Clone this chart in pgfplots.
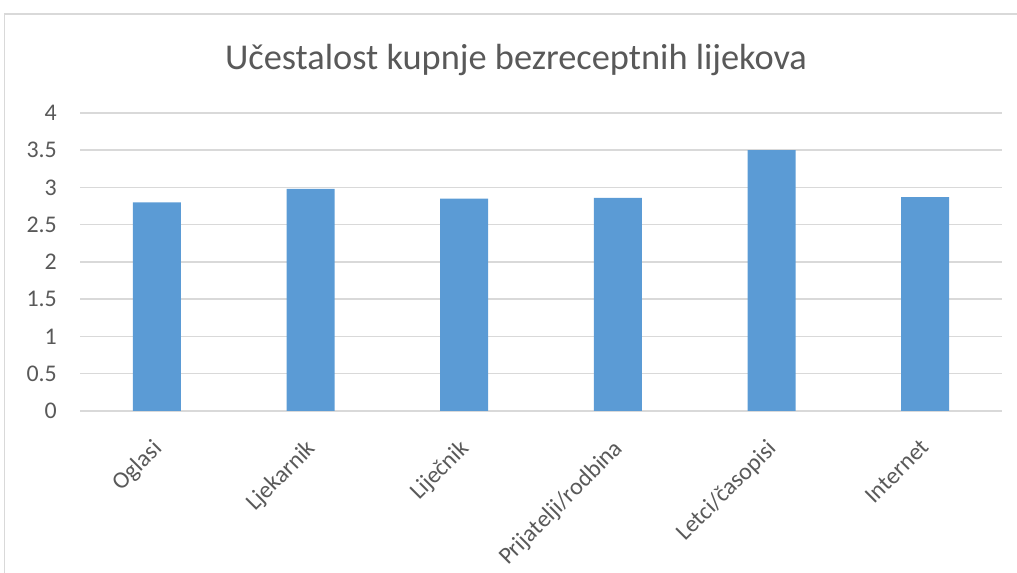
\documentclass[border=0pt]{standalone}
\usepackage{fontspec}
\setmainfont{Carlito}
\usepackage{pgfplots}
\pgfplotsset{compat=1.18}
\definecolor{barblue}{HTML}{5B9BD5}
\definecolor{gridgray}{HTML}{D9D9D9}
\definecolor{textgray}{HTML}{595959}

\begin{document}
\begin{tikzpicture}[x=1bp, y=1bp]
\useasboundingbox (0,0) rectangle (1017,573);
% chart frame (only left and top edges are inside the crop)
\draw[gridgray, line width=1.3bp] (4.7,0) -- (4.7,559) -- (1017,559);
\node[anchor=base, text=textgray, font=\fontsize{36.5}{40}\selectfont]
    at (516,503) {Učestalost kupnje bezreceptnih lijekova};
\begin{axis}[
    at={(80bp,162bp)}, anchor=south west,
    scale only axis,
    width=922bp, height=298bp,
    xmin=-0.5, xmax=5.5,
    ymin=0, ymax=4,
    ytick={0,0.5,...,4},
    xtick=data,
    xticklabels={Oglasi, Ljekarnik, Liječnik, Prijatelji/rodbina, Letci/časopisi, Internet},
    axis line style={draw=none},
    major tick length=0pt,
    ymajorgrids,
    grid style={gridgray, line width=1.5bp},
    /pgf/number format/assume math mode=true,
    tick label style={text=textgray, font=\fontsize{24}{28}\selectfont},
    yticklabel style={anchor=east, inner sep=0pt, xshift=-23bp},
    xticklabel style={rotate=45, anchor=north east, inner sep=0pt, xshift=-23bp, yshift=-15bp},
    clip=false,
]
\addplot[ybar, bar width=48bp, fill=barblue, draw=none]
    coordinates {(0,2.80) (1,2.98) (2,2.85) (3,2.86) (4,3.50) (5,2.87)};
\end{axis}
\end{tikzpicture}
\end{document}
